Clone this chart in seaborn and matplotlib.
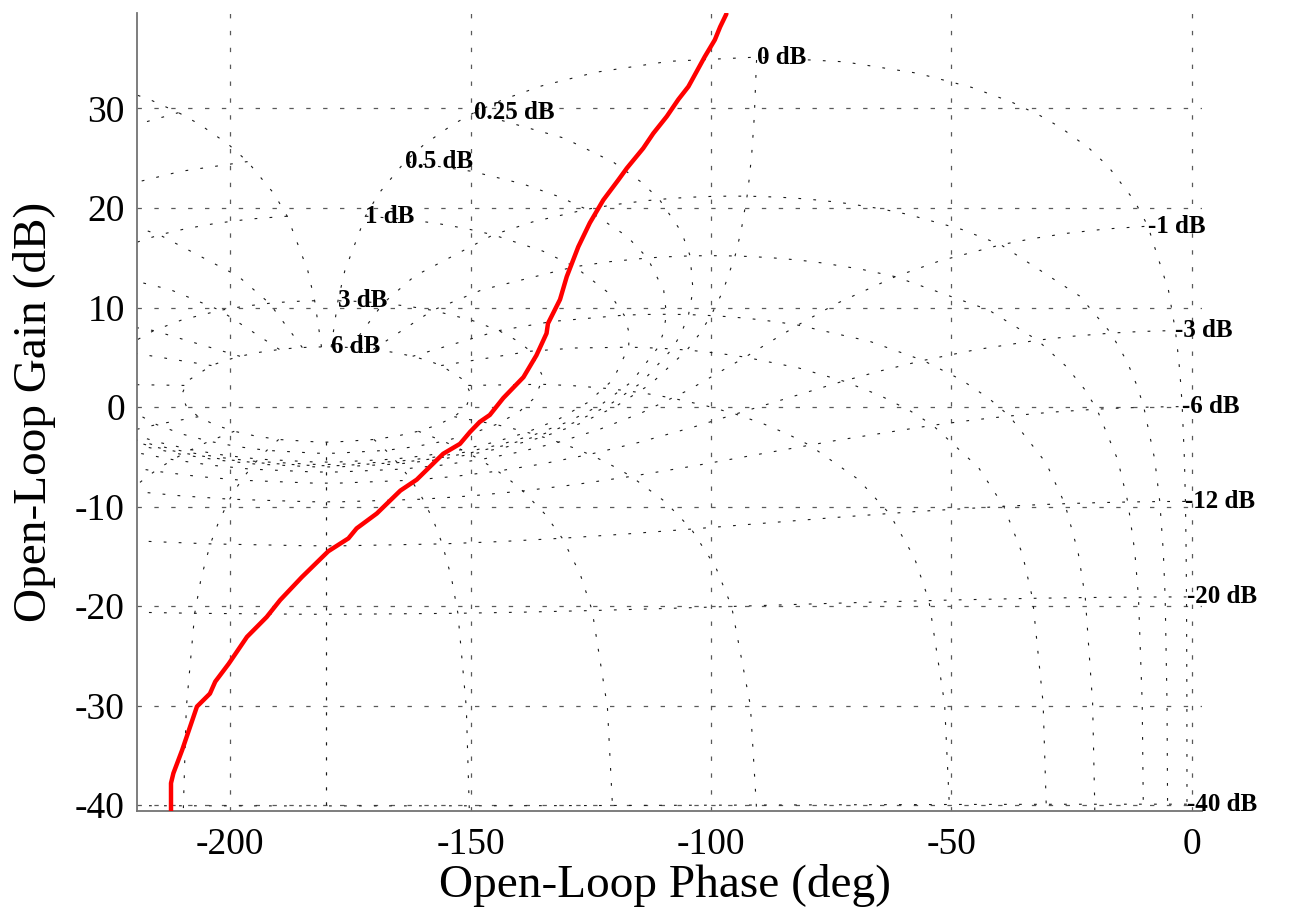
import numpy as np
import pandas as pd
import matplotlib
matplotlib.use('Agg')
import matplotlib.pyplot as plt
import seaborn as sns

# open-loop response
phase_deg = [-212.3, -212.3, -211.8, -210.0, -206.9, -204.2, -203.1, -200.3, -196.5, -192.4,
             -189.6, -185.1, -179.6, -175.4, -173.7, -169.5, -164.6, -161.2, -155.7, -152.2,
             -150.1, -148.1, -146.0, -143.2, -139.0, -136.3, -134.2, -133.9, -131.4, -130.0,
             -127.6, -125.2, -122.4, -119.3, -117.5, -114.1, -112.0, -109.2, -106.8, -104.7,
             -101.3, -99.2, -98.1, -96.8]
gain_db = [-40.6, -37.8, -36.8, -34.5, -30.1, -28.8, -27.6, -25.8, -23.1, -21.1,
           -19.4, -17.1, -14.5, -13.2, -12.2, -10.7, -8.4, -7.3, -4.7, -3.7,
           -2.5, -1.5, -0.8, 0.9, 3.0, 5.2, 7.4, 8.4, 10.8, 13.1,
           16.1, 18.5, 20.8, 22.8, 24.0, 26.0, 27.5, 29.2, 30.9, 32.2,
           35.2, 36.9, 38.2, 39.5]

# Nichols chart grid (closed-loop phase / gain contours)
iso_phase = [1, 5, 10, 20, 30, 50, 90, 120, 150, 180]
iso_phase_gain_pts = [6, 3, 2, 1, .75, .5, .4, .3, .25, .2, .15, .1, .05, 0, -.05, -.1, -.15, -.2,
                      -.25, -.3, -.4, -.5, -.75, -1, -2, -3, -4, -5, -6, -9, -12, -16, -20, -30,
                      -40, -50, -60, -80, -100, -120, -140, -160, -180, -200, -220, -240]
iso_gain = [6, 3, 1, .5, .25, 0, -1, -3, -6, -12, -20, -40, -60, -80, -100]
iso_gain_phase_pts = [1, 2, 3, 4, 5, 7.5, 10, 15, 20, 25, 30, 45, 60, 75, 90, 105, 120, 135, 150, 175, 180]
iso_gain_phase_pts = iso_gain_phase_pts + [360 - v for v in iso_gain_phase_pts[:-1][::-1]]


def open_loop(cl_gain_db, cl_phase_deg):
    z = 10 ** (np.asarray(cl_gain_db) / 20) * np.exp(1j * np.deg2rad(cl_phase_deg))
    h = z / (1 - z)
    ph = np.mod(np.rad2deg(np.angle(h)) + 360, 360) - 360
    return ph, 20 * np.log10(np.abs(h))


sns.set_theme(style='white')
plt.rcParams['font.family'] = ['Liberation Serif', 'DejaVu Serif']
plt.rcParams['axes.unicode_minus'] = False
plt.rcParams['text.color'] = 'black'
plt.rcParams['axes.labelcolor'] = 'black'
plt.rcParams['xtick.labelcolor'] = 'black'
plt.rcParams['ytick.labelcolor'] = 'black'

fig = plt.figure(figsize=(12.92, 9.19), dpi=100)
ax = fig.add_axes([0.1063, 0.1175, 0.824, 0.8684])

grid_style = dict(color='k', lw=0.8, ls=(0, (2.5, 11)), zorder=1)
gpts = np.array(iso_phase_gain_pts, dtype=float)
for p in iso_phase:
    ph, gn = open_loop(gpts, p)
    ax.plot(ph, gn, **grid_style)
    ax.plot(-360 - ph, gn, **grid_style)

ppts = np.array(iso_gain_phase_pts, dtype=float)
for g in iso_gain:
    ph, gn = open_loop(np.full_like(ppts, g), ppts)
    ax.plot(ph, gn, **grid_style)
    # label at closed-loop phase -1 deg
    lp, lg = open_loop(g, -1.0)
    if lg > -41:
        ax.text(lp, lg, f'{g:g} dB', ha='left', va='center', fontsize=18,
                fontweight='bold', color='black', zorder=3)

df = pd.DataFrame({'phase': phase_deg, 'gain': gain_db})
sns.lineplot(data=df, x='phase', y='gain', sort=False, estimator=None,
             color='#FF0000', lw=3.2, ax=ax, zorder=4)

ax.set_xlim(-219.3, 2.1)
ax.set_ylim(-40.6, 39.6)
ax.set_xticks([-200, -150, -100, -50, 0])
ax.set_yticks(np.arange(-40, 31, 10))
ax.grid(True, color='0.35', lw=0.9, ls=(0, (3.5, 10)))
ax.set_axisbelow(True)

for s in ['top', 'right']:
    ax.spines[s].set_visible(False)
for s in ['left', 'bottom']:
    ax.spines[s].set_color('0.45')
    ax.spines[s].set_linewidth(1.3)

ax.tick_params(axis='both', direction='in', length=4, color='0.45', labelsize=27)
ax.tick_params(axis='x', pad=12)
ax.tick_params(axis='y', pad=9)

ax.set_xlabel('Open-Loop Phase (deg)', fontsize=34)
ax.set_ylabel('Open-Loop Gain (dB)', fontsize=34)
ax.xaxis.set_label_coords(0.496, -0.093)
ax.yaxis.set_label_coords(-0.097, 0.5)
ax.xaxis.label.set_va('center')
ax.yaxis.label.set_va('center')

fig.savefig('out.png', dpi=100, facecolor='white')
